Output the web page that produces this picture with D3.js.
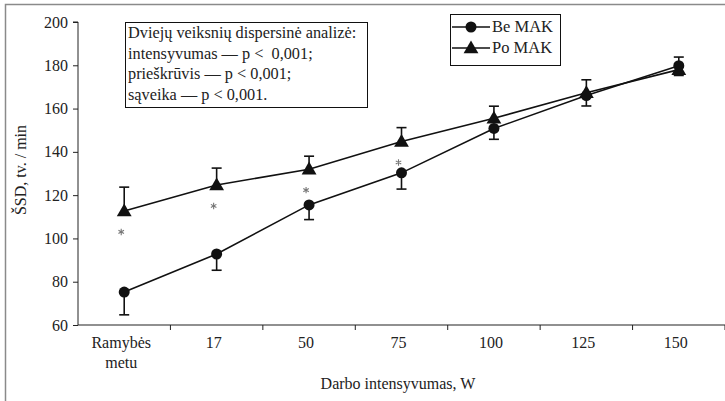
<!DOCTYPE html>
<html><head><meta charset="utf-8">
<script src="https://cdn.jsdelivr.net/npm/d3@7"></script>
<style>body{margin:0;background:#fff}svg{display:block}text{font-family:"Liberation Serif","Times New Roman",serif;fill:#222}</style>
</head><body><svg id="c" width="725" height="401"></svg>
<script>
const categories = ["Ramybės\nmetu","17","50","75","100","125","150"];
const beMAK = [75.2, 92.8, 115.5, 130.3, 150.8, 166, 179.8];
const beErrLow = [10.5, 7.5, 6.8, 7.5, 5, 4.8, 4.5];
const poMAK = [112.7, 124.7, 132, 144.8, 155.5, 167.3, 178];
const poErrHigh = [11, 7.8, 6, 6.4, 5.6, 6, 5.8];
const significant = [true, true, true, true, false, false, false];
const yTicks = [60, 80, 100, 120, 140, 160, 180, 200];
const noteLines = ["Dviejų veiksnių dispersinė analizė:","intensyvumas — p <  0,001;","prieškrūvis — p < 0,001;","sąveika — p < 0,001."];
const legendLabels = ["Be MAK","Po MAK"];

const svg = d3.select("#c");
svg.append("rect").attr("x",5.5).attr("y",4.5).attr("width",740).attr("height",420)
  .attr("fill","none").attr("stroke","#8a8a8a").attr("stroke-width",1.5);

const L=78, R=725, T=22, B=325;
const x = d3.scaleBand().domain(categories).range([L,R]);
const y = d3.scaleLinear().domain([60,200]).range([B,T]);
const cx = c => x(c)+x.bandwidth()/2;

const ya = svg.append("g").attr("transform",`translate(${L},0)`)
  .call(d3.axisLeft(y).tickValues(yTicks).tickSize(5).tickPadding(5));
ya.select(".domain").attr("stroke","#222").attr("d",`M-5,${T}H0V${B}`);
ya.selectAll(".tick line").attr("stroke","#222");
ya.selectAll(".tick text").style("font-size","16px").attr("fill","#222");

const xa = svg.append("g").attr("transform",`translate(0,${B})`);
xa.append("line").attr("x1",L).attr("x2",R).attr("stroke","#222").attr("stroke-width",1.2);
xa.selectAll("line.t").data(categories).join("line").attr("class","t")
  .attr("x1",d=>x(d)+x.bandwidth()).attr("x2",d=>x(d)+x.bandwidth()).attr("y1",0).attr("y2",5).attr("stroke","#222");
xa.selectAll("text.l").data(categories).join("text").attr("class","l")
  .attr("text-anchor","middle").style("font-size","16px")
  .each(function(d){
    const t=d3.select(this);
    d.split("\n").forEach((s,i)=>t.append("tspan").attr("x",cx(d)-3).attr("y",23+i*20).text(s));
  });
svg.append("text").attr("x",398).attr("y",389).attr("text-anchor","middle").style("font-size","16px").text("Darbo intensyvumas, W");
svg.append("text").attr("transform",`translate(26,170) rotate(-90)`).attr("text-anchor","middle").style("font-size","16px").text("ŠSD, tv. / min");

const line = d3.line().x((d,i)=>cx(categories[i])).y(d=>y(d));
svg.append("path").datum(poMAK).attr("d",line).attr("fill","none").attr("stroke","#111").attr("stroke-width",1.6);
svg.append("path").datum(beMAK).attr("d",line).attr("fill","none").attr("stroke","#111").attr("stroke-width",1.6);

const eb = (vals, errs, dir) => {
  const g = svg.append("g").attr("stroke","#111").attr("stroke-width",1.6);
  vals.forEach((v,i)=>{
    const X=cx(categories[i]), e=v+dir*errs[i];
    g.append("line").attr("x1",X).attr("x2",X).attr("y1",y(v)).attr("y2",y(e));
    g.append("line").attr("x1",X-5).attr("x2",X+5).attr("y1",y(e)).attr("y2",y(e));
  });
};
eb(beMAK, beErrLow, -1);
eb(poMAK, poErrHigh, 1);

const tri = d3.symbol().type(d3.symbolTriangle).size(95);
svg.selectAll("path.po").data(poMAK).join("path").attr("class","po")
  .attr("d",tri).attr("transform",(d,i)=>`translate(${cx(categories[i])},${y(d)+1})`).attr("fill","#111");
svg.selectAll("circle.be").data(beMAK).join("circle").attr("class","be")
  .attr("cx",(d,i)=>cx(categories[i])).attr("cy",d=>y(d)).attr("r",5.5).attr("fill","#111");

const star = d3.symbol().type(d3.symbolAsterisk).size(28);
svg.selectAll("path.star").data(poMAK.map((v,i)=>({v,i})).filter(d=>significant[d.i])).join("path").attr("class","star")
  .attr("d",star).attr("transform",d=>`translate(${cx(categories[d.i])-3},${y(d.v)+21})`)
  .attr("fill","none").attr("stroke","#777").attr("stroke-width",1.1);

const nb = svg.append("g");
nb.append("rect").attr("x",125.5).attr("y",22.5).attr("width",242).attr("height",85).attr("fill","#fff").attr("stroke","#111").attr("stroke-width",1);
nb.selectAll("text").data(noteLines).join("text").attr("xml:space","preserve").style("white-space","pre")
  .attr("x",128).attr("y",(d,i)=>38+i*20.6).style("font-size","16.3px").text(d=>d);

const lg = svg.append("g");
lg.append("rect").attr("x",450.5).attr("y",14.5).attr("width",110).attr("height",51).attr("fill","#fff").attr("stroke","#111").attr("stroke-width",1);
legendLabels.forEach((lab,i)=>{
  const yy = 27+i*21;
  lg.append("line").attr("x1",452).attr("x2",490).attr("y1",yy).attr("y2",yy).attr("stroke","#111").attr("stroke-width",1.6);
  if(i===0) lg.append("circle").attr("cx",471).attr("cy",yy).attr("r",5.5).attr("fill","#111");
  else lg.append("path").attr("d",tri).attr("transform",`translate(471,${yy+1})`).attr("fill","#111");
  lg.append("text").attr("x",492).attr("y",yy+5).style("font-size","16.5px").text(lab);
});
</script></body></html>
